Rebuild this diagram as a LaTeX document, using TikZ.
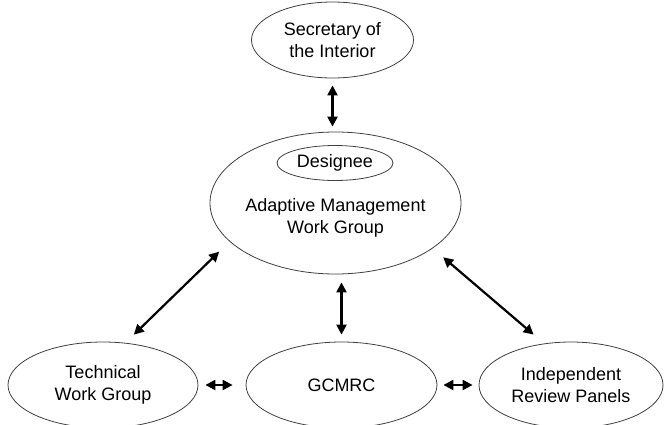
\documentclass[tikz,border=0pt]{standalone}
\usepackage{fontspec}
\setmainfont{Liberation Sans}
\usetikzlibrary{shapes.geometric,arrows.meta}
\begin{document}
\begin{tikzpicture}[x=1pt,y=-1pt,
  ell/.style={draw=black!75, line width=0.8pt, ellipse, inner sep=0pt, align=center,
              font=\fontsize{18}{22}\selectfont},
  lbl/.style={align=center, inner sep=0pt, font=\fontsize{18}{22}\selectfont},
  arr/.style={{Triangle[length=10pt,width=10pt]}-{Triangle[length=10pt,width=10pt]}, line width=2.2pt}]
\useasboundingbox (0,0) rectangle (665,424);
\node[ell, minimum width=162pt, minimum height=76pt] (sec) at (332.5,40) {Secretary of\\the Interior};
\node[ell, minimum width=251pt, minimum height=142pt] (amwg) at (335.5,203) {};
\node[ell, minimum width=116pt, minimum height=35pt] (des) at (335,163) {Designee};
\node[lbl] (amwgt) at (335.5,218) {Adaptive Management\\Work Group};
\node[ell, minimum width=190pt, minimum height=86pt] (twg) at (103,385) {Technical\\Work Group};
\node[ell, minimum width=191pt, minimum height=86pt] (gcm) at (341.5,385) {GCMRC};
\node[ell, minimum width=184pt, minimum height=86pt] (irp) at (571,385) {Independent\\Review Panels};
\draw[arr, shorten <=7pt, shorten >=5pt] (sec.south) -- (sec.south |- amwg.north);
\draw[arr, shorten <=8pt, shorten >=7pt] (amwg.south -| gcm.north) -- (gcm.north);
\draw[arr, shorten <=11.7pt, shorten >=14.5pt] (twg.62.8) -- (amwg.200.4);
\draw[arr, shorten <=13.7pt, shorten >=13.7pt] (amwg.335.1) -- (irp.123.9);
\draw[arr, shorten <=7pt, shorten >=13pt] (twg.east) -- (gcm.west);
\draw[arr, shorten <=6pt, shorten >=6pt] (gcm.east) -- (irp.west);
\end{tikzpicture}
\end{document}
